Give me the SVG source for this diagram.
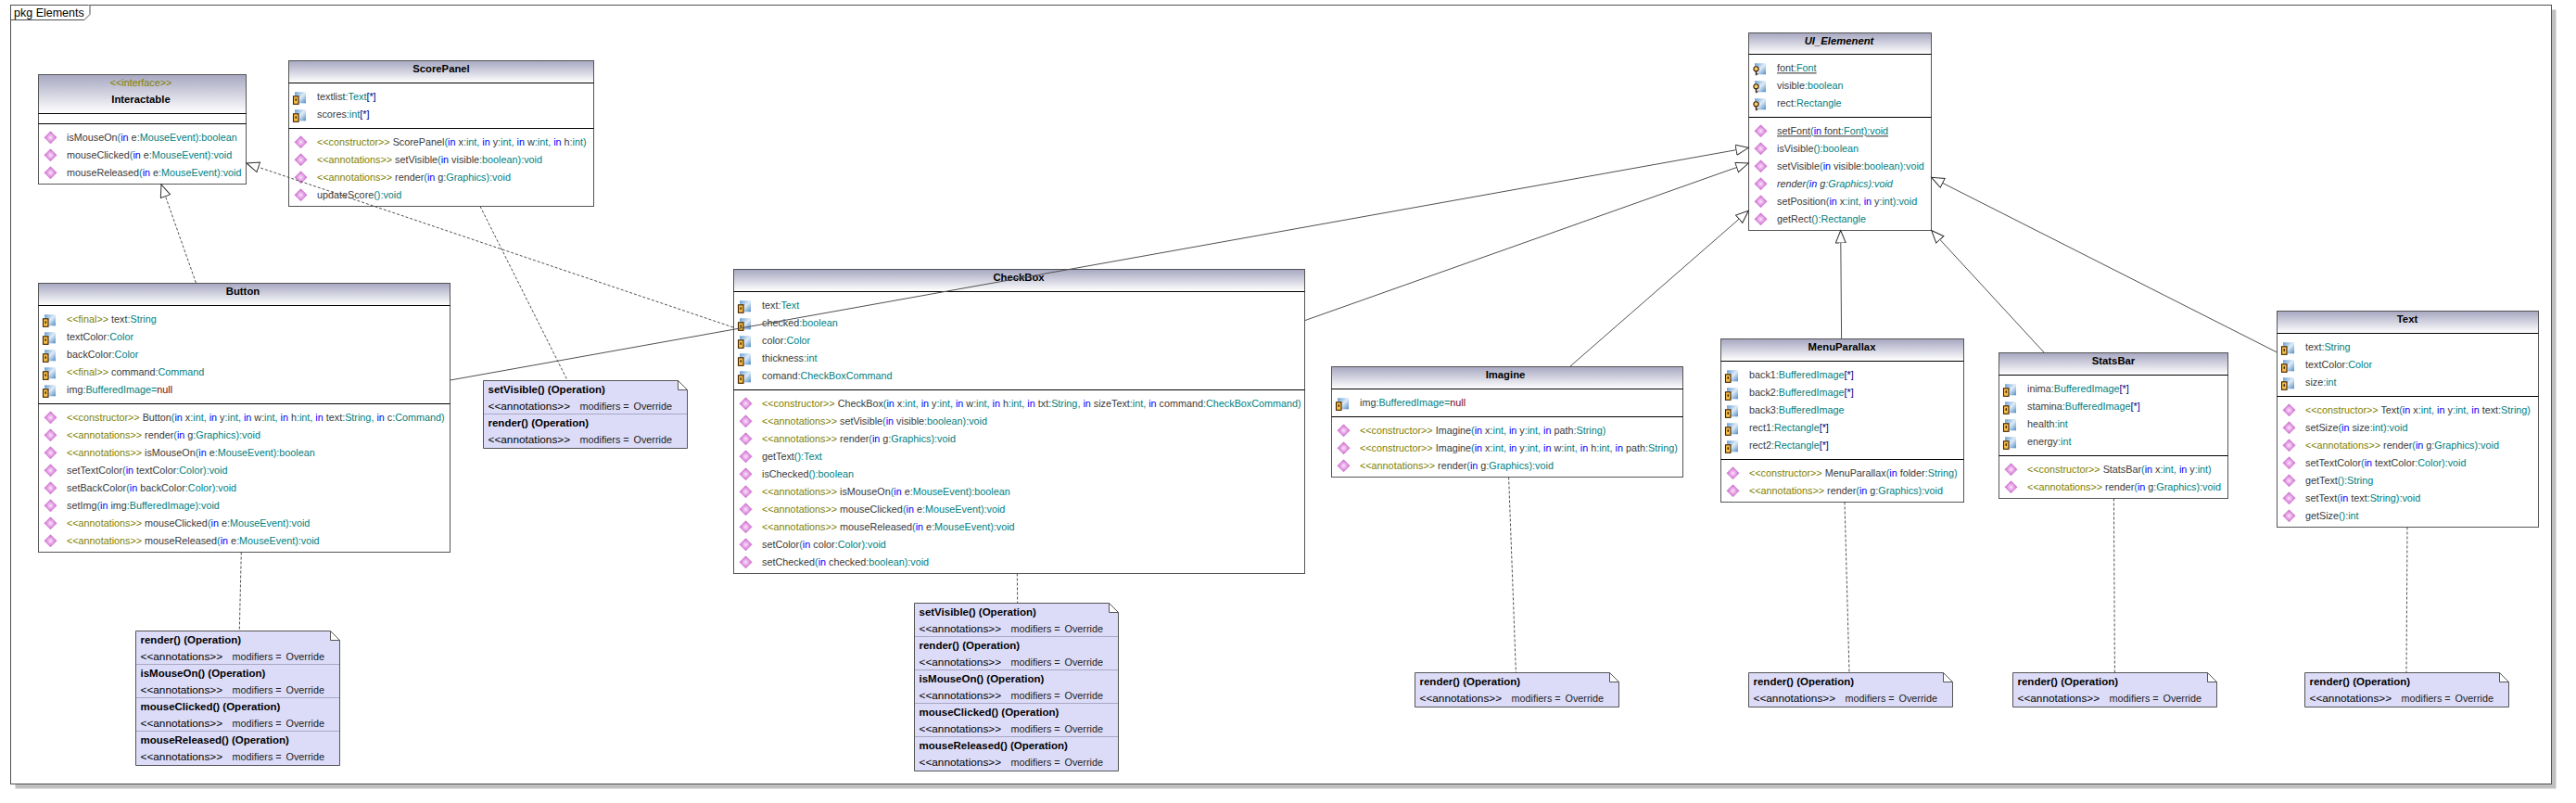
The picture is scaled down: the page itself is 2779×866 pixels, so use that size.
<svg xmlns="http://www.w3.org/2000/svg" width="2779" height="866" viewBox="0 0 2779 866">
<style>
text{font-family:"Liberation Sans",Arial,sans-serif;font-size:10.8px;fill:#3a3a3a}
.t{fill:#008080}.b{fill:#0000ff}.s{fill:#808000}.m{fill:#800000}.d{fill:#000080}
.nm{font-weight:bold;font-size:11.3px;fill:#000;text-anchor:middle}
.st{fill:#808000;text-anchor:middle}
.box{fill:#fff;stroke:#555;stroke-width:1}
.hd{fill:url(#hg)}
.sep{stroke:#000;stroke-width:1;fill:none}
.note{fill:#dcdcf8;stroke:#555;stroke-width:1}
.nsep{stroke:#a8a8c4;stroke-width:1;fill:none}
.nt{font-weight:bold;font-size:11.5px;fill:#000}
.na{font-size:11.8px;fill:#000}.nv{fill:#222}
.rel{fill:none;stroke:#505050;stroke-width:1;marker-end:url(#tri)}
.dep{fill:none;stroke:#505050;stroke-width:1;stroke-dasharray:3 2}
.real{fill:none;stroke:#505050;stroke-width:1;stroke-dasharray:3 2;marker-end:url(#tri)}
</style>
<defs>
<linearGradient id="hg" x1="0" y1="0" x2="0" y2="1"><stop offset="0" stop-color="#a8a8c2"/><stop offset="1" stop-color="#fff"/></linearGradient>
<linearGradient id="sq" x1="0" y1="0" x2="1" y2="1"><stop offset="0" stop-color="#5f9ad0"/><stop offset="0.5" stop-color="#e0ecf8"/><stop offset="1" stop-color="#4f8cc4"/></linearGradient>
<radialGradient id="dm"><stop offset="0" stop-color="#fbe4fb"/><stop offset="1" stop-color="#d060d0"/></radialGradient>
<marker id="tri" markerUnits="userSpaceOnUse" markerWidth="16" markerHeight="14" refX="14" refY="6" orient="auto"><path d="M14,6 L0.5,0.5 V11.5 Z" fill="#fff" stroke="#303030" stroke-width="1" stroke-dasharray="none"/></marker>
<path id="op" d="M0,-6.5 L6.5,0 L0,6.5 L-6.5,0 Z" fill="url(#dm)" stroke="#c878c8" stroke-width="0.8"/>
<g id="priv"><rect x="2" y="-5" width="12" height="12" fill="url(#sq)"/><rect x="0.5" y="-0.5" width="5.5" height="8.5" fill="#f8c048" stroke="#402000" stroke-width="1.1"/><rect x="2.5" y="2" width="1.5" height="2.5" fill="#402000"/></g>
<g id="prot"><rect x="2" y="-5" width="12" height="12" fill="url(#sq)"/><circle cx="3.5" cy="1" r="2.6" fill="#f8d070" stroke="#402000" stroke-width="1.1"/><path d="M3.5,3.5 V8 M3.5,6.5 H5.5" stroke="#402000" stroke-width="1.2" fill="none"/></g>
</defs>
<rect width="2779" height="866" fill="#fff"/>
<g id="frame">
<rect x="16.5" y="10.5" width="2741" height="840" fill="#c0c0c0"/>
<rect x="11.5" y="5.5" width="2741" height="840" fill="#fff" stroke="#505050" stroke-width="1"/>
<path d="M11.5,21.5 H91 L97,15.5 V5.5" fill="#fff" stroke="#505050" stroke-width="1"/>
<text x="15" y="18" style="font-size:12.5px;fill:#000">pkg Elements</text>
</g>
<g id="node-interactable">
<rect class="box" x="41.5" y="80.5" width="224" height="118"/><rect class="hd" x="42" y="81" width="223" height="41"/>
<path class="sep" d="M41.5,122.5 H265.5 M41.5,133.5 H265.5"/>
<text class="st" x="152" y="93">&lt;&lt;interface&gt;&gt;</text><text class="nm" x="152" y="111">Interactable</text>
<use href="#op" x="54.5" y="148.3"/><use href="#op" x="54.5" y="167.3"/><use href="#op" x="54.5" y="186.3"/>
<text x="72" y="152.3">isMouseOn<tspan class="t">(</tspan><tspan class="b">in</tspan> e<tspan class="t">:MouseEvent):boolean</tspan></text>
<text x="72" y="171.3">mouseClicked<tspan class="t">(</tspan><tspan class="b">in</tspan> e<tspan class="t">:MouseEvent):void</tspan></text>
<text x="72" y="190.3">mouseReleased<tspan class="t">(</tspan><tspan class="b">in</tspan> e<tspan class="t">:MouseEvent):void</tspan></text>
</g>
<g id="node-scorepanel">
<rect class="box" x="311.5" y="65.5" width="329" height="157"/><rect class="hd" x="312" y="66" width="328" height="23"/>
<path class="sep" d="M311.5,89.5 H640.5 M311.5,138.5 H640.5"/>
<text class="nm" x="476" y="78">ScorePanel</text>
<use href="#priv" x="316" y="104.3"/><use href="#priv" x="316" y="123.3"/>
<text x="342" y="108.3">textlist<tspan class="t">:Text</tspan><tspan class="d">[*]</tspan></text>
<text x="342" y="127.3">scores<tspan class="t">:int</tspan><tspan class="d">[*]</tspan></text>
<use href="#op" x="324.5" y="153.3"/><use href="#op" x="324.5" y="172.3"/><use href="#op" x="324.5" y="191.3"/><use href="#op" x="324.5" y="210.3"/>
<text x="342" y="157.3"><tspan class="s">&lt;&lt;constructor&gt;&gt;</tspan> ScorePanel<tspan class="t">(</tspan><tspan class="b">in</tspan> x<tspan class="t">:int,</tspan> <tspan class="b">in</tspan> y<tspan class="t">:int,</tspan> <tspan class="b">in</tspan> w<tspan class="t">:int,</tspan> <tspan class="b">in</tspan> h<tspan class="t">:int)</tspan></text>
<text x="342" y="176.3"><tspan class="s">&lt;&lt;annotations&gt;&gt;</tspan> setVisible<tspan class="t">(</tspan><tspan class="b">in</tspan> visible<tspan class="t">:boolean):void</tspan></text>
<text x="342" y="195.3"><tspan class="s">&lt;&lt;annotations&gt;&gt;</tspan> render<tspan class="t">(</tspan><tspan class="b">in</tspan> g<tspan class="t">:Graphics):void</tspan></text>
<text x="342" y="214.3">updateScore<tspan class="t">():void</tspan></text>
</g>
<g id="node-button">
<rect class="box" x="41.5" y="305.5" width="444" height="290"/><rect class="hd" x="42" y="306" width="443" height="23"/>
<path class="sep" d="M41.5,329.5 H485.5 M41.5,435.5 H485.5"/>
<text class="nm" x="262" y="318">Button</text>
<use href="#priv" x="46" y="344.3"/><use href="#priv" x="46" y="363.3"/><use href="#priv" x="46" y="382.3"/><use href="#priv" x="46" y="401.3"/><use href="#priv" x="46" y="420.3"/>
<text x="72" y="348.3"><tspan class="s">&lt;&lt;final&gt;&gt;</tspan> text<tspan class="t">:String</tspan></text>
<text x="72" y="367.3">textColor<tspan class="t">:Color</tspan></text>
<text x="72" y="386.3">backColor<tspan class="t">:Color</tspan></text>
<text x="72" y="405.3"><tspan class="s">&lt;&lt;final&gt;&gt;</tspan> command<tspan class="t">:Command</tspan></text>
<text x="72" y="424.3">img<tspan class="t">:BufferedImage=</tspan><tspan class="m">null</tspan></text>
<use href="#op" x="54.5" y="450.3"/><use href="#op" x="54.5" y="469.3"/><use href="#op" x="54.5" y="488.3"/><use href="#op" x="54.5" y="507.3"/><use href="#op" x="54.5" y="526.3"/><use href="#op" x="54.5" y="545.3"/><use href="#op" x="54.5" y="564.3"/><use href="#op" x="54.5" y="583.3"/>
<text x="72" y="454.3"><tspan class="s">&lt;&lt;constructor&gt;&gt;</tspan> Button<tspan class="t">(</tspan><tspan class="b">in</tspan> x<tspan class="t">:int,</tspan> <tspan class="b">in</tspan> y<tspan class="t">:int,</tspan> <tspan class="b">in</tspan> w<tspan class="t">:int,</tspan> <tspan class="b">in</tspan> h<tspan class="t">:int,</tspan> <tspan class="b">in</tspan> text<tspan class="t">:String,</tspan> <tspan class="b">in</tspan> c<tspan class="t">:Command)</tspan></text>
<text x="72" y="473.3"><tspan class="s">&lt;&lt;annotations&gt;&gt;</tspan> render<tspan class="t">(</tspan><tspan class="b">in</tspan> g<tspan class="t">:Graphics):void</tspan></text>
<text x="72" y="492.3"><tspan class="s">&lt;&lt;annotations&gt;&gt;</tspan> isMouseOn<tspan class="t">(</tspan><tspan class="b">in</tspan> e<tspan class="t">:MouseEvent):boolean</tspan></text>
<text x="72" y="511.3">setTextColor<tspan class="t">(</tspan><tspan class="b">in</tspan> textColor<tspan class="t">:Color):void</tspan></text>
<text x="72" y="530.3">setBackColor<tspan class="t">(</tspan><tspan class="b">in</tspan> backColor<tspan class="t">:Color):void</tspan></text>
<text x="72" y="549.3">setImg<tspan class="t">(</tspan><tspan class="b">in</tspan> img<tspan class="t">:BufferedImage):void</tspan></text>
<text x="72" y="568.3"><tspan class="s">&lt;&lt;annotations&gt;&gt;</tspan> mouseClicked<tspan class="t">(</tspan><tspan class="b">in</tspan> e<tspan class="t">:MouseEvent):void</tspan></text>
<text x="72" y="587.3"><tspan class="s">&lt;&lt;annotations&gt;&gt;</tspan> mouseReleased<tspan class="t">(</tspan><tspan class="b">in</tspan> e<tspan class="t">:MouseEvent):void</tspan></text>
</g>
<g id="node-checkbox">
<rect class="box" x="791.5" y="290.5" width="616" height="328"/><rect class="hd" x="792" y="291" width="615" height="23"/>
<path class="sep" d="M791.5,314.5 H1407.5 M791.5,420.5 H1407.5"/>
<text class="nm" x="1099" y="303">CheckBox</text>
<use href="#priv" x="796" y="329.3"/><use href="#priv" x="796" y="348.3"/><use href="#priv" x="796" y="367.3"/><use href="#priv" x="796" y="386.3"/><use href="#priv" x="796" y="405.3"/>
<text x="822" y="333.3">text<tspan class="t">:Text</tspan></text>
<text x="822" y="352.3">checked<tspan class="t">:boolean</tspan></text>
<text x="822" y="371.3">color<tspan class="t">:Color</tspan></text>
<text x="822" y="390.3">thickness<tspan class="t">:int</tspan></text>
<text x="822" y="409.3">comand<tspan class="t">:CheckBoxCommand</tspan></text>
<use href="#op" x="804.5" y="435.3"/><use href="#op" x="804.5" y="454.3"/><use href="#op" x="804.5" y="473.3"/><use href="#op" x="804.5" y="492.3"/><use href="#op" x="804.5" y="511.3"/><use href="#op" x="804.5" y="530.3"/><use href="#op" x="804.5" y="549.3"/><use href="#op" x="804.5" y="568.3"/><use href="#op" x="804.5" y="587.3"/><use href="#op" x="804.5" y="606.3"/>
<text x="822" y="439.3"><tspan class="s">&lt;&lt;constructor&gt;&gt;</tspan> CheckBox<tspan class="t">(</tspan><tspan class="b">in</tspan> x<tspan class="t">:int,</tspan> <tspan class="b">in</tspan> y<tspan class="t">:int,</tspan> <tspan class="b">in</tspan> w<tspan class="t">:int,</tspan> <tspan class="b">in</tspan> h<tspan class="t">:int,</tspan> <tspan class="b">in</tspan> txt<tspan class="t">:String,</tspan> <tspan class="b">in</tspan> sizeText<tspan class="t">:int,</tspan> <tspan class="b">in</tspan> command<tspan class="t">:CheckBoxCommand)</tspan></text>
<text x="822" y="458.3"><tspan class="s">&lt;&lt;annotations&gt;&gt;</tspan> setVisible<tspan class="t">(</tspan><tspan class="b">in</tspan> visible<tspan class="t">:boolean):void</tspan></text>
<text x="822" y="477.3"><tspan class="s">&lt;&lt;annotations&gt;&gt;</tspan> render<tspan class="t">(</tspan><tspan class="b">in</tspan> g<tspan class="t">:Graphics):void</tspan></text>
<text x="822" y="496.3">getText<tspan class="t">():Text</tspan></text>
<text x="822" y="515.3">isChecked<tspan class="t">():boolean</tspan></text>
<text x="822" y="534.3"><tspan class="s">&lt;&lt;annotations&gt;&gt;</tspan> isMouseOn<tspan class="t">(</tspan><tspan class="b">in</tspan> e<tspan class="t">:MouseEvent):boolean</tspan></text>
<text x="822" y="553.3"><tspan class="s">&lt;&lt;annotations&gt;&gt;</tspan> mouseClicked<tspan class="t">(</tspan><tspan class="b">in</tspan> e<tspan class="t">:MouseEvent):void</tspan></text>
<text x="822" y="572.3"><tspan class="s">&lt;&lt;annotations&gt;&gt;</tspan> mouseReleased<tspan class="t">(</tspan><tspan class="b">in</tspan> e<tspan class="t">:MouseEvent):void</tspan></text>
<text x="822" y="591.3">setColor<tspan class="t">(</tspan><tspan class="b">in</tspan> color<tspan class="t">:Color):void</tspan></text>
<text x="822" y="610.3">setChecked<tspan class="t">(</tspan><tspan class="b">in</tspan> checked<tspan class="t">:boolean):void</tspan></text>
</g>
<g id="node-imagine">
<rect class="box" x="1436.5" y="395.5" width="379" height="119"/><rect class="hd" x="1437" y="396" width="378" height="23"/>
<path class="sep" d="M1436.5,419.5 H1815.5 M1436.5,449.5 H1815.5"/>
<text class="nm" x="1624" y="408">Imagine</text>
<use href="#priv" x="1441" y="434.3"/>
<text x="1467" y="438.3">img<tspan class="t">:BufferedImage=</tspan><tspan class="m">null</tspan></text>
<use href="#op" x="1449.5" y="464.3"/><use href="#op" x="1449.5" y="483.3"/><use href="#op" x="1449.5" y="502.3"/>
<text x="1467" y="468.3"><tspan class="s">&lt;&lt;constructor&gt;&gt;</tspan> Imagine<tspan class="t">(</tspan><tspan class="b">in</tspan> x<tspan class="t">:int,</tspan> <tspan class="b">in</tspan> y<tspan class="t">:int,</tspan> <tspan class="b">in</tspan> path<tspan class="t">:String)</tspan></text>
<text x="1467" y="487.3"><tspan class="s">&lt;&lt;constructor&gt;&gt;</tspan> Imagine<tspan class="t">(</tspan><tspan class="b">in</tspan> x<tspan class="t">:int,</tspan> <tspan class="b">in</tspan> y<tspan class="t">:int,</tspan> <tspan class="b">in</tspan> w<tspan class="t">:int,</tspan> <tspan class="b">in</tspan> h<tspan class="t">:int,</tspan> <tspan class="b">in</tspan> path<tspan class="t">:String)</tspan></text>
<text x="1467" y="506.3"><tspan class="s">&lt;&lt;annotations&gt;&gt;</tspan> render<tspan class="t">(</tspan><tspan class="b">in</tspan> g<tspan class="t">:Graphics):void</tspan></text>
</g>
<g id="node-menuparallax">
<rect class="box" x="1856.5" y="365.5" width="262" height="176"/><rect class="hd" x="1857" y="366" width="261" height="23"/>
<path class="sep" d="M1856.5,389.5 H2118.5 M1856.5,495.5 H2118.5"/>
<text class="nm" x="1987" y="378">MenuParallax</text>
<use href="#priv" x="1861" y="404.3"/><use href="#priv" x="1861" y="423.3"/><use href="#priv" x="1861" y="442.3"/><use href="#priv" x="1861" y="461.3"/><use href="#priv" x="1861" y="480.3"/>
<text x="1887" y="408.3">back1<tspan class="t">:BufferedImage</tspan><tspan class="d">[*]</tspan></text>
<text x="1887" y="427.3">back2<tspan class="t">:BufferedImage</tspan><tspan class="d">[*]</tspan></text>
<text x="1887" y="446.3">back3<tspan class="t">:BufferedImage</tspan></text>
<text x="1887" y="465.3">rect1<tspan class="t">:Rectangle</tspan><tspan class="d">[*]</tspan></text>
<text x="1887" y="484.3">rect2<tspan class="t">:Rectangle</tspan><tspan class="d">[*]</tspan></text>
<use href="#op" x="1869.5" y="510.3"/><use href="#op" x="1869.5" y="529.3"/>
<text x="1887" y="514.3"><tspan class="s">&lt;&lt;constructor&gt;&gt;</tspan> MenuParallax<tspan class="t">(</tspan><tspan class="b">in</tspan> folder<tspan class="t">:String)</tspan></text>
<text x="1887" y="533.3"><tspan class="s">&lt;&lt;annotations&gt;&gt;</tspan> render<tspan class="t">(</tspan><tspan class="b">in</tspan> g<tspan class="t">:Graphics):void</tspan></text>
</g>
<g id="node-ui-element">
<rect class="box" x="1886.5" y="35.5" width="197" height="213"/><rect class="hd" x="1887" y="36" width="196" height="22"/>
<path class="sep" d="M1886.5,58.5 H2083.5 M1886.5,126.5 H2083.5"/>
<text class="nm" x="1984" y="48" font-style="italic">UI_Elemenent</text>
<use href="#prot" x="1891" y="73.3"/><use href="#prot" x="1891" y="92.3"/><use href="#prot" x="1891" y="111.3"/>
<text x="1917" y="77.3" text-decoration="underline">font<tspan class="t">:Font</tspan></text>
<text x="1917" y="96.3">visible<tspan class="t">:boolean</tspan></text>
<text x="1917" y="115.3">rect<tspan class="t">:Rectangle</tspan></text>
<use href="#op" x="1899.5" y="141.3"/><use href="#op" x="1899.5" y="160.3"/><use href="#op" x="1899.5" y="179.3"/><use href="#op" x="1899.5" y="198.3"/><use href="#op" x="1899.5" y="217.3"/><use href="#op" x="1899.5" y="236.3"/>
<text x="1917" y="145.3" text-decoration="underline">setFont<tspan class="t">(</tspan><tspan class="b">in</tspan> font<tspan class="t">:Font):void</tspan></text>
<text x="1917" y="164.3">isVisible<tspan class="t">():boolean</tspan></text>
<text x="1917" y="183.3">setVisible<tspan class="t">(</tspan><tspan class="b">in</tspan> visible<tspan class="t">:boolean):void</tspan></text>
<text x="1917" y="202.3" font-style="italic">render<tspan class="t">(</tspan><tspan class="b">in</tspan> g<tspan class="t">:Graphics):void</tspan></text>
<text x="1917" y="221.3">setPosition<tspan class="t">(</tspan><tspan class="b">in</tspan> x<tspan class="t">:int,</tspan> <tspan class="b">in</tspan> y<tspan class="t">:int):void</tspan></text>
<text x="1917" y="240.3">getRect<tspan class="t">():Rectangle</tspan></text>
</g>
<g id="node-statsbar">
<rect class="box" x="2156.5" y="380.5" width="247" height="157"/><rect class="hd" x="2157" y="381" width="246" height="23"/>
<path class="sep" d="M2156.5,404.5 H2403.5 M2156.5,491.5 H2403.5"/>
<text class="nm" x="2280" y="393">StatsBar</text>
<use href="#priv" x="2161" y="419.3"/><use href="#priv" x="2161" y="438.3"/><use href="#priv" x="2161" y="457.3"/><use href="#priv" x="2161" y="476.3"/>
<text x="2187" y="423.3">inima<tspan class="t">:BufferedImage</tspan><tspan class="d">[*]</tspan></text>
<text x="2187" y="442.3">stamina<tspan class="t">:BufferedImage</tspan><tspan class="d">[*]</tspan></text>
<text x="2187" y="461.3">health<tspan class="t">:int</tspan></text>
<text x="2187" y="480.3">energy<tspan class="t">:int</tspan></text>
<use href="#op" x="2169.5" y="506.3"/><use href="#op" x="2169.5" y="525.3"/>
<text x="2187" y="510.3"><tspan class="s">&lt;&lt;constructor&gt;&gt;</tspan> StatsBar<tspan class="t">(</tspan><tspan class="b">in</tspan> x<tspan class="t">:int,</tspan> <tspan class="b">in</tspan> y<tspan class="t">:int)</tspan></text>
<text x="2187" y="529.3"><tspan class="s">&lt;&lt;annotations&gt;&gt;</tspan> render<tspan class="t">(</tspan><tspan class="b">in</tspan> g<tspan class="t">:Graphics):void</tspan></text>
</g>
<g id="node-text">
<rect class="box" x="2456.5" y="335.5" width="282" height="233"/><rect class="hd" x="2457" y="336" width="281" height="23"/>
<path class="sep" d="M2456.5,359.5 H2738.5 M2456.5,427.5 H2738.5"/>
<text class="nm" x="2597" y="348">Text</text>
<use href="#priv" x="2461" y="374.3"/><use href="#priv" x="2461" y="393.3"/><use href="#priv" x="2461" y="412.3"/>
<text x="2487" y="378.3">text<tspan class="t">:String</tspan></text>
<text x="2487" y="397.3">textColor<tspan class="t">:Color</tspan></text>
<text x="2487" y="416.3">size<tspan class="t">:int</tspan></text>
<use href="#op" x="2469.5" y="442.3"/><use href="#op" x="2469.5" y="461.3"/><use href="#op" x="2469.5" y="480.3"/><use href="#op" x="2469.5" y="499.3"/><use href="#op" x="2469.5" y="518.3"/><use href="#op" x="2469.5" y="537.3"/><use href="#op" x="2469.5" y="556.3"/>
<text x="2487" y="446.3"><tspan class="s">&lt;&lt;constructor&gt;&gt;</tspan> Text<tspan class="t">(</tspan><tspan class="b">in</tspan> x<tspan class="t">:int,</tspan> <tspan class="b">in</tspan> y<tspan class="t">:int,</tspan> <tspan class="b">in</tspan> text<tspan class="t">:String)</tspan></text>
<text x="2487" y="465.3">setSize<tspan class="t">(</tspan><tspan class="b">in</tspan> size<tspan class="t">:int):void</tspan></text>
<text x="2487" y="484.3"><tspan class="s">&lt;&lt;annotations&gt;&gt;</tspan> render<tspan class="t">(</tspan><tspan class="b">in</tspan> g<tspan class="t">:Graphics):void</tspan></text>
<text x="2487" y="503.3">setTextColor<tspan class="t">(</tspan><tspan class="b">in</tspan> textColor<tspan class="t">:Color):void</tspan></text>
<text x="2487" y="522.3">getText<tspan class="t">():String</tspan></text>
<text x="2487" y="541.3">setText<tspan class="t">(</tspan><tspan class="b">in</tspan> text<tspan class="t">:String):void</tspan></text>
<text x="2487" y="560.3">getSize<tspan class="t">():int</tspan></text>
</g>
<g id="note-scorepanel">
<path class="note" d="M521.5,410.5 H731.5 L741.5,420.5 V483.5 H521.5 Z M731.5,410.5 V420.5 H741.5"/>
<path class="nsep" d="M522,446.5 H741"/>
<text class="nt" x="526.5" y="423.5">setVisible() (Operation)</text><text x="526.5" y="441.5" class="na">&lt;&lt;annotations&gt;&gt;</text><text x="625.5" y="441.5" class="nv">modifiers =</text><text x="683.5" y="441.5" class="nv">Override</text>
<text class="nt" x="526.5" y="459.5">render() (Operation)</text><text x="526.5" y="477.5" class="na">&lt;&lt;annotations&gt;&gt;</text><text x="625.5" y="477.5" class="nv">modifiers =</text><text x="683.5" y="477.5" class="nv">Override</text>
</g>
<g id="note-button">
<path class="note" d="M146.5,680.5 H356.5 L366.5,690.5 V825.5 H146.5 Z M356.5,680.5 V690.5 H366.5"/>
<path class="nsep" d="M147,716.5 H366 M147,752.5 H366 M147,788.5 H366"/>
<text class="nt" x="151.5" y="693.5">render() (Operation)</text><text x="151.5" y="711.5" class="na">&lt;&lt;annotations&gt;&gt;</text><text x="250.5" y="711.5" class="nv">modifiers =</text><text x="308.5" y="711.5" class="nv">Override</text>
<text class="nt" x="151.5" y="729.5">isMouseOn() (Operation)</text><text x="151.5" y="747.5" class="na">&lt;&lt;annotations&gt;&gt;</text><text x="250.5" y="747.5" class="nv">modifiers =</text><text x="308.5" y="747.5" class="nv">Override</text>
<text class="nt" x="151.5" y="765.5">mouseClicked() (Operation)</text><text x="151.5" y="783.5" class="na">&lt;&lt;annotations&gt;&gt;</text><text x="250.5" y="783.5" class="nv">modifiers =</text><text x="308.5" y="783.5" class="nv">Override</text>
<text class="nt" x="151.5" y="801.5">mouseReleased() (Operation)</text><text x="151.5" y="819.5" class="na">&lt;&lt;annotations&gt;&gt;</text><text x="250.5" y="819.5" class="nv">modifiers =</text><text x="308.5" y="819.5" class="nv">Override</text>
</g>
<g id="note-checkbox">
<path class="note" d="M986.5,650.5 H1196.5 L1206.5,660.5 V831.5 H986.5 Z M1196.5,650.5 V660.5 H1206.5"/>
<path class="nsep" d="M987,686.5 H1206 M987,722.5 H1206 M987,758.5 H1206 M987,794.5 H1206"/>
<text class="nt" x="991.5" y="663.5">setVisible() (Operation)</text><text x="991.5" y="681.5" class="na">&lt;&lt;annotations&gt;&gt;</text><text x="1090.5" y="681.5" class="nv">modifiers =</text><text x="1148.5" y="681.5" class="nv">Override</text>
<text class="nt" x="991.5" y="699.5">render() (Operation)</text><text x="991.5" y="717.5" class="na">&lt;&lt;annotations&gt;&gt;</text><text x="1090.5" y="717.5" class="nv">modifiers =</text><text x="1148.5" y="717.5" class="nv">Override</text>
<text class="nt" x="991.5" y="735.5">isMouseOn() (Operation)</text><text x="991.5" y="753.5" class="na">&lt;&lt;annotations&gt;&gt;</text><text x="1090.5" y="753.5" class="nv">modifiers =</text><text x="1148.5" y="753.5" class="nv">Override</text>
<text class="nt" x="991.5" y="771.5">mouseClicked() (Operation)</text><text x="991.5" y="789.5" class="na">&lt;&lt;annotations&gt;&gt;</text><text x="1090.5" y="789.5" class="nv">modifiers =</text><text x="1148.5" y="789.5" class="nv">Override</text>
<text class="nt" x="991.5" y="807.5">mouseReleased() (Operation)</text><text x="991.5" y="825.5" class="na">&lt;&lt;annotations&gt;&gt;</text><text x="1090.5" y="825.5" class="nv">modifiers =</text><text x="1148.5" y="825.5" class="nv">Override</text>
</g>
<g id="note-imagine">
<path class="note" d="M1526.5,725.5 H1736.5 L1746.5,735.5 V762.5 H1526.5 Z M1736.5,725.5 V735.5 H1746.5"/>
<text class="nt" x="1531.5" y="738.5">render() (Operation)</text><text x="1531.5" y="756.5" class="na">&lt;&lt;annotations&gt;&gt;</text><text x="1630.5" y="756.5" class="nv">modifiers =</text><text x="1688.5" y="756.5" class="nv">Override</text>
</g>
<g id="note-menuparallax">
<path class="note" d="M1886.5,725.5 H2096.5 L2106.5,735.5 V762.5 H1886.5 Z M2096.5,725.5 V735.5 H2106.5"/>
<text class="nt" x="1891.5" y="738.5">render() (Operation)</text><text x="1891.5" y="756.5" class="na">&lt;&lt;annotations&gt;&gt;</text><text x="1990.5" y="756.5" class="nv">modifiers =</text><text x="2048.5" y="756.5" class="nv">Override</text>
</g>
<g id="note-statsbar">
<path class="note" d="M2171.5,725.5 H2381.5 L2391.5,735.5 V762.5 H2171.5 Z M2381.5,725.5 V735.5 H2391.5"/>
<text class="nt" x="2176.5" y="738.5">render() (Operation)</text><text x="2176.5" y="756.5" class="na">&lt;&lt;annotations&gt;&gt;</text><text x="2275.5" y="756.5" class="nv">modifiers =</text><text x="2333.5" y="756.5" class="nv">Override</text>
</g>
<g id="note-text">
<path class="note" d="M2486.5,725.5 H2696.5 L2706.5,735.5 V762.5 H2486.5 Z M2696.5,725.5 V735.5 H2706.5"/>
<text class="nt" x="2491.5" y="738.5">render() (Operation)</text><text x="2491.5" y="756.5" class="na">&lt;&lt;annotations&gt;&gt;</text><text x="2590.5" y="756.5" class="nv">modifiers =</text><text x="2648.5" y="756.5" class="nv">Override</text>
</g>
<g id="connectors">
<path class="real" d="M211.4,305 L174,199"/>
<path class="real" d="M791,353 L266,176"/>
<path class="rel" d="M485.6,410 L1886.3,159.3"/>
<path class="rel" d="M1407.5,345.7 L1886.3,176"/>
<path class="rel" d="M1694,395 L1886.3,227.3"/>
<path class="rel" d="M1986.6,365 L1985.7,248.5"/>
<path class="rel" d="M2205,380 L2083.7,248.5"/>
<path class="rel" d="M2456.5,380 L2083.7,191.3"/>
<path class="dep" d="M518,222.5 L612,410"/>
<path class="dep" d="M260.3,595.5 L258.3,680"/>
<path class="dep" d="M1097.3,618.5 L1097.7,650"/>
<path class="dep" d="M1627.6,514.5 L1635.4,725"/>
<path class="dep" d="M1990,541.5 L1995,725"/>
<path class="dep" d="M2280.4,537.5 L2281.4,725"/>
<path class="dep" d="M2597,568.5 L2596,725"/>
</g>
</svg>
